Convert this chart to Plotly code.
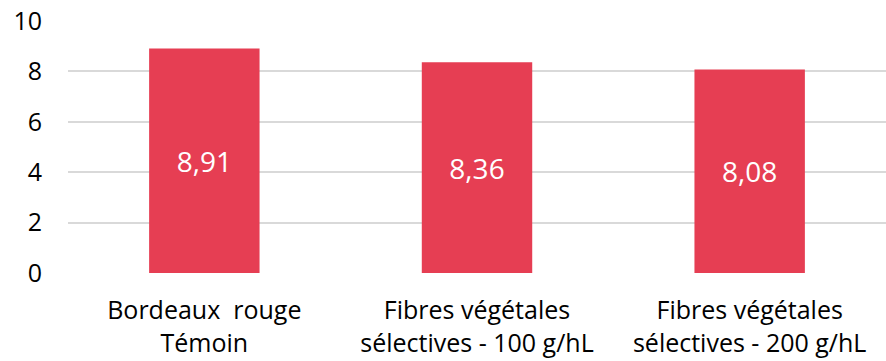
import plotly.graph_objects as go

categories = ["Bordeaux  rouge<br>Témoin",
              "Fibres végétales<br>sélectives - 100 g/hL",
              "Fibres végétales<br>sélectives - 200 g/hL"]
values = [8.91, 8.36, 8.08]
value_labels = ["8,91", "8,36", "8,08"]
y_ticks = [0, 2, 4, 6, 8, 10]

font_family = "Open Sans"

fig = go.Figure(go.Bar(
    x=categories,
    y=values,
    text=value_labels,
    textposition="inside",
    insidetextanchor="middle",
    textfont=dict(color="white", size=28, family=font_family),
    marker=dict(color="#E63E53", line=dict(width=0)),
    width=0.405,
    hoverinfo="skip",
))

fig.update_layout(
    width=886, height=361,
    margin=dict(l=68, r=0, t=21, b=88),
    paper_bgcolor="white",
    plot_bgcolor="white",
    showlegend=False,
    uniformtext=dict(minsize=28, mode="show"),
    font=dict(family=font_family, color="#000000"),
)

fig.update_yaxes(
    range=[0, 10],
    tickvals=y_ticks,
    showgrid=True,
    gridcolor="#D9D9D9",
    gridwidth=1.5,
    zeroline=False,
    showline=False,
    ticks="",
    ticklabelstandoff=25,
    tickfont=dict(size=25, color="#000000", family=font_family),
)

fig.update_xaxes(
    showline=False,
    ticks="",
    ticklabelstandoff=20,
    tickfont=dict(size=25, color="#000000", family=font_family),
)

fig.write_html("out.html")
